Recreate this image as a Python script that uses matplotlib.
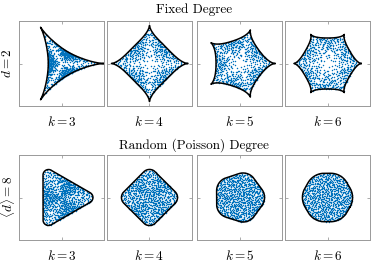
import numpy as np
import matplotlib
matplotlib.use("Agg")
import matplotlib.pyplot as plt

plt.rcParams["mathtext.fontset"] = "cm"
plt.rcParams["font.family"] = "serif"
plt.rcParams["font.serif"] = ["cmr10", "DejaVu Serif"]
plt.rcParams["axes.formatter.use_mathtext"] = True

# panel data
k_values = [3, 4, 5, 6]
row_titles = ["Fixed Degree", "Random (Poisson) Degree"]
row_labels = [r"$d=2$", r"$\langle d \rangle=8$"]
# top row: cusp radius (fraction of half axis) and side flattening exponent
cusp_radius = [0.985, 0.895, 0.83, 0.79]
flatten = [1.05, 0.72, 0.8, 0.68]
# bottom row: rounded polygon, core radius and rounding radius
core_radius = [0.61, 0.47, 0.27, 0.15]
round_radius = [0.13, 0.19, 0.32, 0.44]
n_points = [680, 900]
# how strongly the points crowd towards the edge (1/2 = even spread)
edge_bias = [0.32, 0.5]

blue = "#0072BD"


def halton(n, base):
    out = np.zeros(n)
    for i in range(n):
        f, r, j = 1.0, 0.0, i + 1
        while j > 0:
            f /= base
            r += f * (j % base)
            j //= base
        out[i] = r
    return out


def star(k, R, g, t):
    x = (k - 1) * np.cos(t) + np.cos((k - 1) * t)
    y = (k - 1) * np.sin(t) - np.sin((k - 1) * t)
    r = np.hypot(x, y) / k
    a = np.arctan2(y, x)
    r = R * r ** g
    return r * np.cos(a), r * np.sin(a)


def rounded_polygon(k, Rp, rho, m=80):
    xs, ys = [], []
    for j in range(k):
        a = 2 * np.pi * j / k
        vx, vy = Rp * np.cos(a), Rp * np.sin(a)
        ang = np.linspace(a - np.pi / k, a + np.pi / k, m)
        xs.append(vx + rho * np.cos(ang))
        ys.append(vy + rho * np.sin(ang))
    x = np.concatenate(xs)
    y = np.concatenate(ys)
    x, y = np.append(x, x[0]), np.append(y, y[0])
    # fill in the straight edges so the polar lookup follows them
    d = np.concatenate([[0], np.cumsum(np.hypot(np.diff(x), np.diff(y)))])
    u = np.linspace(0, d[-1], 1500)
    return np.interp(u, d, x), np.interp(u, d, y)


def fill_points(bx, by, n, bias):
    ang = np.mod(np.arctan2(by, bx), 2 * np.pi)
    rad = np.hypot(bx, by)
    order = np.argsort(ang)
    a = 2 * np.pi * halton(n, 2)
    s = halton(n, 3) ** bias
    ra = np.interp(a, ang[order], rad[order], period=2 * np.pi)
    return s * ra * np.cos(a), s * ra * np.sin(a)


fig = plt.figure(figsize=(3.74, 2.66), dpi=100)
W, H = 374, 266
lefts = [19, 107, 197, 285]
tops = [21, 155]
pw, ph = 85, 85

for row in range(2):
    for col, k in enumerate(k_values):
        ax = fig.add_axes([lefts[col] / W, 1 - (tops[row] + ph) / H, pw / W, ph / H])
        if row == 0:
            t = np.linspace(0, 2 * np.pi, 3000)
            bx, by = star(k, cusp_radius[col], flatten[col], t)
        else:
            bx, by = rounded_polygon(k, core_radius[col], round_radius[col])
        px, py = fill_points(bx, by, n_points[row], edge_bias[row])
        ax.scatter(px, py, s=1.1, color=blue, linewidths=0, zorder=2)
        ax.plot(bx, by, color="black", lw=1.1, zorder=3)
        ax.set_xlim(-1, 1)
        ax.set_ylim(-1, 1)
        ax.set_xticks([0])
        ax.set_yticks([0])
        ax.set_xticklabels([])
        ax.set_yticklabels([])
        ax.tick_params(direction="in", length=2, width=0.5, color="#888888",
                       top=True, right=True)
        for sp in ax.spines.values():
            sp.set_color("#999999")
            sp.set_linewidth(0.7)
        ax.set_xlabel(r"$k=%d$" % k, fontsize=9.5, labelpad=3)

fig.text(8 / W, 1 - 63 / H, row_labels[0], rotation=90, ha="center", va="center", fontsize=9.5)
fig.text(8 / W, 1 - 197 / H, row_labels[1], rotation=90, ha="center", va="center", fontsize=9.5)
fig.text(194 / W, 1 - 10 / H, row_titles[0], ha="center", va="center", fontsize=9.5)
fig.text(194 / W, 1 - 145 / H, row_titles[1], ha="center", va="center", fontsize=9.5)

fig.savefig("out.png", dpi=100)
